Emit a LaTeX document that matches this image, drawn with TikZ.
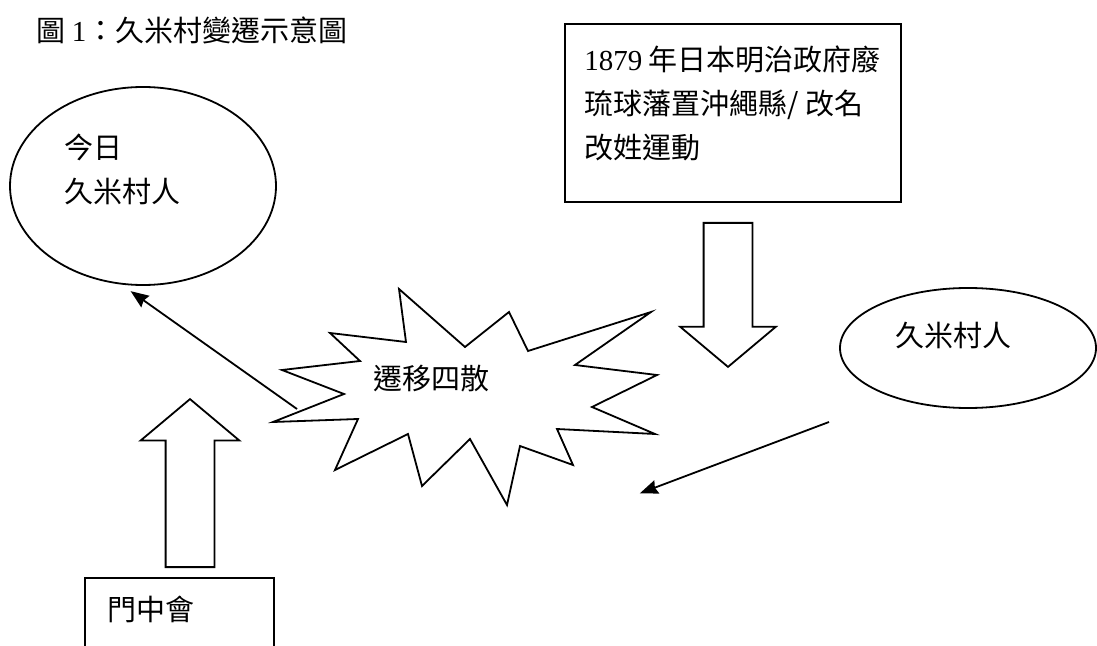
\documentclass[tikz,border=0pt]{standalone}
\usepackage{fontspec}
\setmainfont{Liberation Serif}
\newfontfamily\cjk{Noto Sans CJK TC}
\usetikzlibrary{arrows.meta,shapes.geometric,shapes.arrows,positioning}
\tikzset{
    %Define standard arrow tip
    >={Stealth[length=9pt,width=7pt,inset=1pt]},
    %Define style for ellipses
    oval/.style={
           ellipse,
           draw=black, line width=0.9pt,
           inner sep=0pt},
    %Define style for boxes
    kasten/.style={
           rectangle,
           draw=black, line width=0.9pt,
           inner sep=0pt,
           anchor=north west},
    %Define style for texts
    schrift/.style={
           font=\cjk\fontsize{14.5}{22}\selectfont,
           inner sep=0pt,
           align=left},
    %Define style for block arrows
    block/.style={
           single arrow,
           draw=black, line width=0.9pt,
           inner sep=11.75pt,
           minimum width=47pt,
           single arrow head extend=11.75pt,
           single arrow tip angle=100,
           anchor=tail},
    % Define arrow style
    pil/.style={
           ->,
           line width=0.9pt,
           shorten >=1pt}
}
\begin{document}
\begin{tikzpicture}[x=0.5pt,y=-0.5pt]
\useasboundingbox (0,0) rectangle (1097,646);
\clip (0,0) rectangle (1097,646);
 %nodes
\node[schrift, anchor=north west] (titel) at (36,16) {圖 {\rmfamily 1}：久米村變遷示意圖};
\node[oval, minimum width=133pt, minimum height=99pt] (heute) at (143,186) {};
\node[schrift, anchor=north west] (heutetext) at (64,134) {今日\\久米村人};
\node[kasten, minimum width=168pt, minimum height=89pt] (meiji) at (564,23) {};
\node[schrift, anchor=north west] (meijitext) at (584,45)
    {{\rmfamily 1879} 年日本明治政府廢\\琉球藩置沖繩縣/ 改名\\改姓運動};
\node[oval, minimum width=128pt, minimum height=60pt] (kume) at (968,348) {};
\node[schrift] (kumetext) at (953,336) {久米村人};
\node[kasten, minimum width=94.5pt, minimum height=100pt] (monchu) at (84,577) {};
\node[schrift, anchor=west] (monchutext) at (107,609) {門中會};
 %starburst
\draw[line width=0.9pt] (399,289) -- (465,347) -- (509,312) -- (528,351) -- (651,312)
    -- (575,365) -- (657,375) -- (592,407) -- (655,434) -- (557,429) -- (573,465)
    -- (520,446) -- (507,505) -- (470,439) -- (422,486) -- (408,434) -- (335,470)
    -- (358,419) -- (273,422) -- (344,394) -- (282,370) -- (360,361) -- (330,333)
    -- (406,342) -- cycle;
\node[schrift] (streuung) at (431,379) {遷移四散};
 %block arrows
\node[block, shape border rotate=270, minimum height=72pt] (runter) at (728,222) {};
\node[block, shape border rotate=90, minimum height=84pt, minimum width=48.5pt,
    single arrow head extend=12.5pt] (hoch) at (190,568) {};
 %arrows
\coordinate (a1) at (297,409);
\coordinate (a2) at (129,290);
\coordinate (b1) at (829,422);
\coordinate (b2) at (638,494);
\draw[pil] (a1) -- (a2);
\draw[pil] (b1) -- (b2);
\end{tikzpicture}
\end{document}
